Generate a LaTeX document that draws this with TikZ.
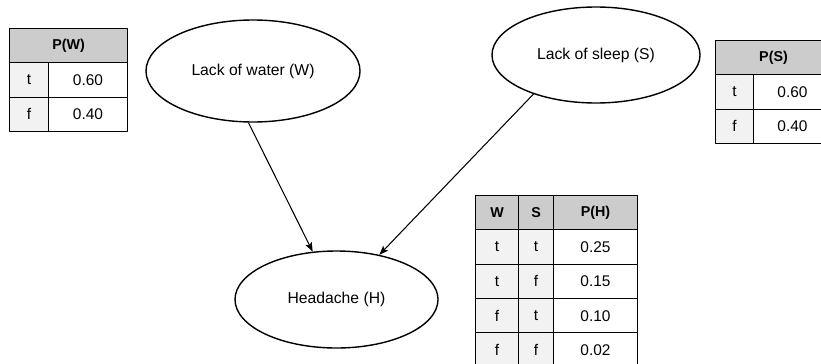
\documentclass[tikz,border=0pt]{standalone}
\usepackage{fontspec}
\setmainfont{Liberation Sans}
\usetikzlibrary{shapes.geometric,arrows.meta}
\definecolor{hdrgray}{HTML}{CCCCCC}
\definecolor{keygray}{HTML}{F2F2F2}
\newcommand{\ellfont}{\fontsize{13.4}{16}\selectfont}
\newcommand{\tabfont}{\fontsize{13.2}{16}\selectfont}
\newcommand{\hdrfont}{\fontsize{12.2}{14}\selectfont\bfseries}
\begin{document}
\begin{tikzpicture}[x=0.03cm, y=-0.03cm, line join=round, >={Stealth[length=8pt,width=6pt,inset=2pt]},
  ell/.style={ellipse, draw, line width=1.2pt, inner sep=0pt, font=\ellfont},
  cell/.style={draw, line width=0.9pt, inner sep=0pt, anchor=north west, minimum height=1.03cm, font=\tabfont},
  hdr/.style={cell, fill=hdrgray, font=\hdrfont},
  key/.style={cell, fill=keygray},
  val/.style={cell, fill=white}]
% Khung hình
\def\rowh{34.333}
\clip (0,0) rectangle (821,363);
\useasboundingbox (0,0) rectangle (821,363);
\fill[white] (0,0) rectangle (821,363);
% Các nút của mạng
\node[ell, minimum width=6.42cm, minimum height=3.06cm] (W) at (253,71) {Lack of water (W)};
\node[ell, minimum width=6.24cm, minimum height=2.88cm] (S) at (596,55) {Lack of sleep (S)};
\node[ell, minimum width=6.09cm, minimum height=2.91cm] (H) at (336.5,299.5) {Headache (H)};
% Các cung
\draw[->, line width=0.9pt] (W.265) -- (H);
\draw[->, line width=0.9pt] (S.212) -- (H);
% Bảng P(W)
\node[hdr, minimum width=3.54cm] (pw-h) at (9,28) {P(W)};
\foreach \v/\p [count=\i] in {t/0.60, f/0.40} {
  \node[key, minimum width=1.17cm] (pw-k\i) at (9,{28+\rowh*\i}) {\v};
  \node[val, minimum width=2.37cm] (pw-v\i) at (48,{28+\rowh*\i}) {\p};
}
% Bảng P(S)
\node[hdr, minimum width=3.48cm] (ps-h) at (715,40) {P(S)};
\foreach \v/\p [count=\i] in {t/0.60, f/0.40} {
  \node[key, minimum width=1.14cm] (ps-k\i) at (715,{40+\rowh*\i}) {\v};
  \node[val, minimum width=2.34cm] (ps-v\i) at (753,{40+\rowh*\i}) {\p};
}
% Bảng P(H)
\node[hdr, minimum width=1.29cm] (ph-w) at (475,195) {W};
\node[hdr, minimum width=1.05cm] (ph-s) at (518,195) {S};
\node[hdr, minimum width=2.52cm] (ph-p) at (553,195) {P(H)};
\foreach \a/\b/\p [count=\i] in {t/t/0.25, t/f/0.15, f/t/0.10, f/f/0.02} {
  \node[key, minimum width=1.29cm] (ph-w\i) at (475,{195+\rowh*\i}) {\a};
  \node[key, minimum width=1.05cm] (ph-s\i) at (518,{195+\rowh*\i}) {\b};
  \node[val, minimum width=2.52cm] (ph-p\i) at (553,{195+\rowh*\i}) {\p};
}
\end{tikzpicture}
\end{document}
